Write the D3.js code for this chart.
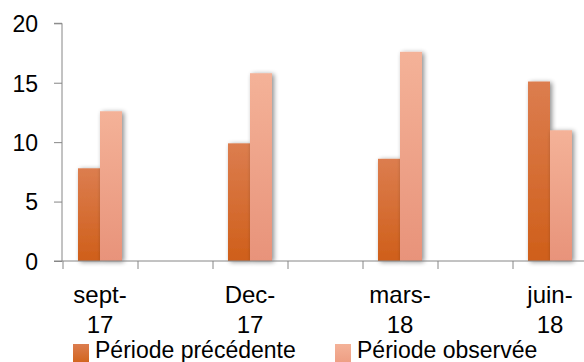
<!DOCTYPE html>
<html>
<head>
<meta charset="utf-8">
<script src="https://cdn.jsdelivr.net/npm/d3@7"></script>
<style>
  html, body { margin: 0; padding: 0; background: #fff; }
  svg { display: block; }
  text { font-family: "Liberation Sans", "DejaVu Sans", sans-serif; fill: #000; }
</style>
</head>
<body>
<svg id="chart" width="584" height="362"></svg>
<script>
// Periods on the horizontal axis
const categories = ["sept-17", "Dec-17", "mars-18", "juin-18"];
const categoryLines = [["sept-", "17"], ["Dec-", "17"], ["mars-", "18"], ["juin-", "18"]];
// Series values
const seriesNames = ["Période précédente", "Période observée"];
const previousPeriod = [7.8, 9.9, 8.6, 15.1];
const observedPeriod = [12.6, 15.8, 17.6, 11.0];
// Vertical axis ticks
const yTicks = [0, 5, 10, 15, 20];
// Minor tick positions on the horizontal axis, in category units
const xTickPositions = [-0.25, 0.25, 0.75, 1.25, 1.75, 2.25, 2.75, 3.25];

const svg = d3.select("#chart");
const W = 584, H = 362;
const axisColor = "#868686";

const y = d3.scaleLinear().domain([0, 20]).range([261, 23.3]);
const xc = d3.scaleLinear().domain([0, 3]).range([100, 550]);
const barW = 22;
const xSub = d3.scaleBand().domain(seriesNames).range([-barW, barW]);

const defs = svg.append("defs");
function vGrad(id, top, bottom) {
  const g = defs.append("linearGradient").attr("id", id).attr("x1", 0).attr("y1", 0).attr("x2", 0).attr("y2", 1);
  g.append("stop").attr("offset", "0%").attr("stop-color", top);
  g.append("stop").attr("offset", "100%").attr("stop-color", bottom);
}
vGrad("gPrev", "#dc7d4f", "#cf5f1a");
vGrad("gObs", "#f4b298", "#e8937a");
vGrad("lPrev", "#dc7d4f", "#d2651f");
vGrad("lObs", "#f4b298", "#ee9f84");

const shadow = defs.append("filter").attr("id", "shadow")
  .attr("x", "-50%").attr("y", "-20%").attr("width", "200%").attr("height", "140%");
shadow.append("feGaussianBlur").attr("in", "SourceAlpha").attr("stdDeviation", 2.6).attr("result", "b");
shadow.append("feOffset").attr("in", "b").attr("dx", 1.5).attr("dy", 0.5).attr("result", "o");
shadow.append("feComponentTransfer").attr("in", "o").attr("result", "s")
  .append("feFuncA").attr("type", "linear").attr("slope", 0.45);
const merge = shadow.append("feMerge");
merge.append("feMergeNode").attr("in", "s");
merge.append("feMergeNode").attr("in", "SourceGraphic");

// Y axis
const yAxis = d3.axisLeft(y).tickValues(yTicks).tickSize(8).tickPadding(16);
const gy = svg.append("g").attr("transform", "translate(62,0)").call(yAxis);
gy.select(".domain").attr("stroke", axisColor).attr("d", `M-8,${y(20)}H0V${y(0)}`);
gy.selectAll(".tick line").attr("stroke", axisColor);
gy.selectAll(".tick text").style("font-size", "23px").attr("dy", "0.36em");

// Bars
const seriesData = [previousPeriod, observedPeriod];
const fills = ["url(#gPrev)", "url(#gObs)"];
const bars = svg.append("g");
seriesNames.forEach((name, si) => {
  bars.append("g").attr("filter", "url(#shadow)")
    .selectAll("rect").data(seriesData[si]).join("rect")
    .attr("x", (d, i) => xc(i) + xSub(name))
    .attr("width", xSub.bandwidth())
    .attr("y", d => y(d))
    .attr("height", d => y(0) - y(d))
    .attr("fill", fills[si]);
});

// X axis
const xAxis = d3.axisBottom(xc).tickValues(xTickPositions).tickSize(8).tickFormat("");
const gx = svg.append("g").attr("transform", `translate(0,${y(0)})`).call(xAxis);
gx.select(".domain").attr("stroke", axisColor).attr("d", `M54,0H${W}`);
gx.selectAll(".tick line").attr("stroke", axisColor);

// Category labels on two lines
const lab = svg.append("g").style("font-size", "24px").attr("text-anchor", "middle");
categoryLines.forEach((lines, i) => {
  lab.append("text").attr("x", xc(i)).attr("y", 303).text(lines[0]);
  lab.append("text").attr("x", xc(i)).attr("y", 333).text(lines[1]);
});

// Legend
const legend = svg.append("g").style("font-size", "23px");
const legX = [73, 335];
const legFill = ["url(#lPrev)", "url(#lObs)"];
seriesNames.forEach((name, i) => {
  legend.append("rect").attr("x", legX[i]).attr("y", 344).attr("width", 16).attr("height", 18).attr("fill", legFill[i]);
  legend.append("text").attr("x", legX[i] + 22).attr("y", 358).text(name);
});
</script>
</body>
</html>
